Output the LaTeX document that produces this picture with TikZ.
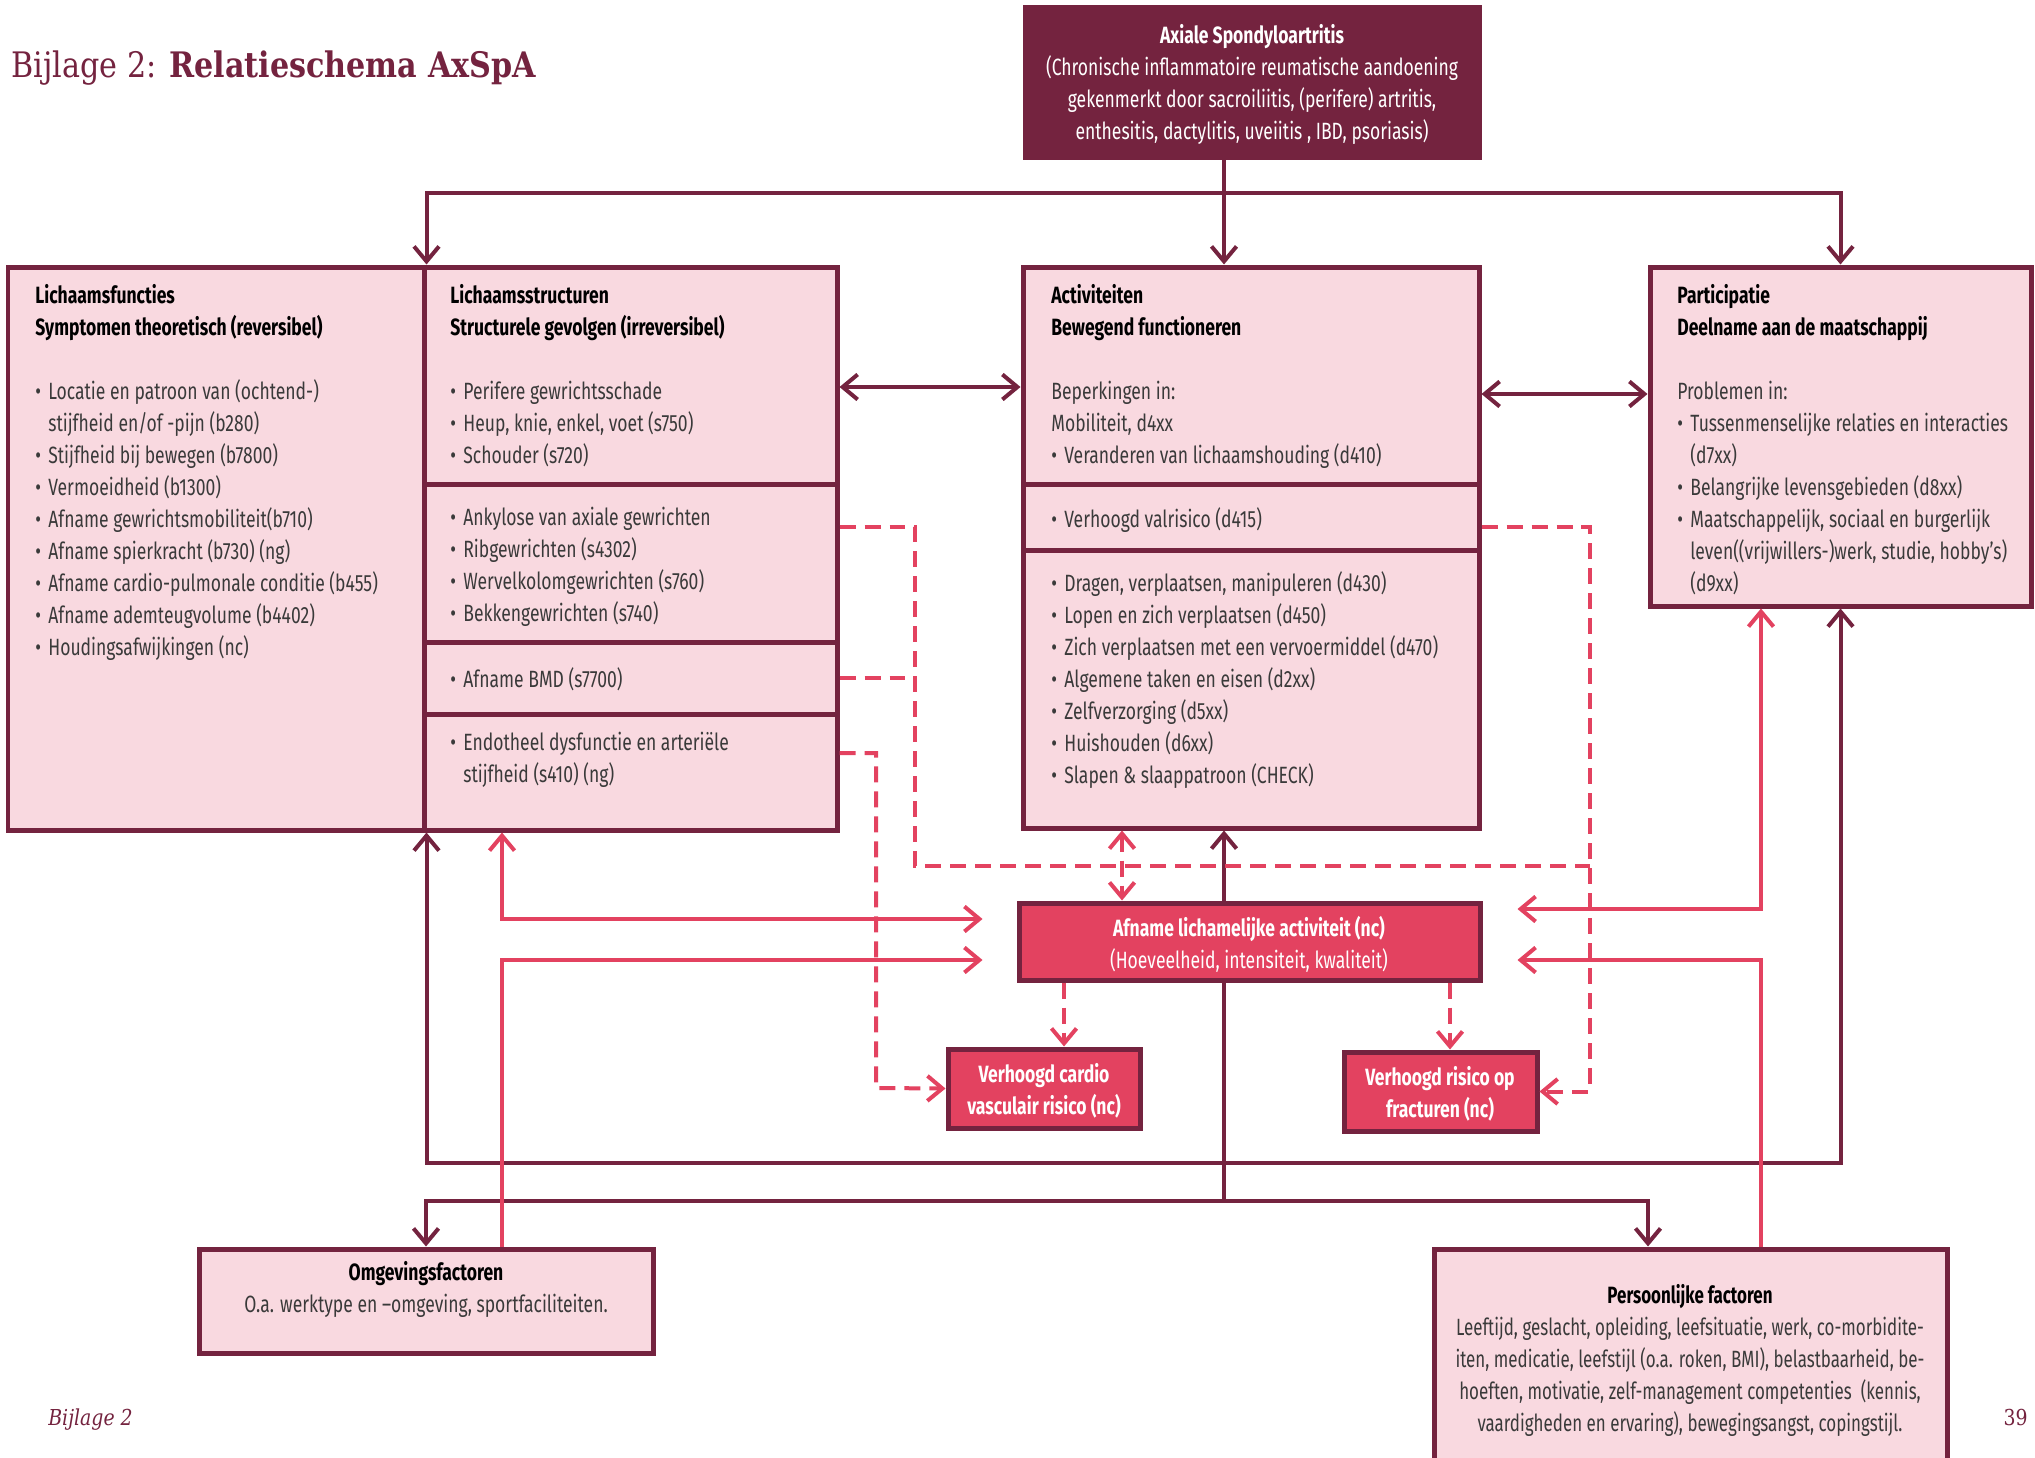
\documentclass[tikz,border=0pt]{standalone}
\usepackage{fontspec}
\setmainfont{Fira Sans}[FakeStretch=0.745]
\newfontfamily\titelfont{DejaVu Serif}[FakeStretch=0.86]
\usetikzlibrary{arrows.meta,fit}

\definecolor{bordeaux}{HTML}{74233F}
\definecolor{lichtroze}{HTML}{F9D9E0}
\definecolor{framboos}{HTML}{E34260}
\definecolor{tekstgrijs}{HTML}{3A3A3A}

\newcommand{\basis}{\fontsize{13.4pt}{18.2pt}\selectfont}
\newcommand{\bul}{\makebox[0.26cm][l]{\textbullet}}
\newcommand{\ins}{\hspace*{0.26cm}}
\newcommand{\kop}[1]{\textcolor{black}{\bfseries #1}}

\begin{document}
\begin{tikzpicture}[x=0.02cm, y=-0.02cm,
    vak/.style={draw=bordeaux, fill=lichtroze, line width=0.1cm, inner sep=0pt},
    rood/.style={vak, fill=framboos},
    tekst/.style={anchor=north west, align=left, inner sep=0pt, text=tekstgrijs, font=\basis},
    wit/.style={align=center, inner sep=0pt, text=white, font=\basis},
    lijn/.style={draw=bordeaux, line width=0.08cm},
    roze/.style={draw=framboos, line width=0.08cm},
    stippel/.style={roze, dash pattern=on 0.32cm off 0.18cm},
    pijl/.tip={Straight Barb[length=0.3cm, width=0.5cm]}]

    \useasboundingbox (0,0) rectangle (2035,1457);

    % titel en voet
    \node[anchor=base west, inner sep=0pt, text=bordeaux, font=\titelfont\fontsize{20pt}{24pt}\selectfont] (titel) at (11,77) {Bijlage 2: \textbf{Relatieschema AxSpA}};
    \node[anchor=base west, inner sep=0pt, text=bordeaux, font=\titelfont\itshape\fontsize{12.5pt}{14pt}\selectfont] (voet) at (48,1425) {Bijlage 2};
    \node[anchor=base east, inner sep=0pt, text=bordeaux, font=\titelfont\fontsize{12.5pt}{14pt}\selectfont] (paginanr) at (2028,1425) {39};

    % vakken
    \node[vak, fill=bordeaux, fit={(1025,7) (1479,157)}] (axspa) {};
    \node[wit] (axspatekst) at (1252,84) {\textbf{Axiale Spondyloartritis}\\(Chronische inflammatoire reumatische aandoening\\gekenmerkt door sacroiliitis, (perifere) artritis,\\enthesitis, dactylitis, uveiitis , IBD, psoriasis)};

    \node[vak, fit={(8,267) (424,830)}] (func) {};
    \node[vak, fit={(424,267) (837,484)}] (struct1) {};
    \node[vak, fit={(424,484) (837,642)}] (struct2) {};
    \node[vak, fit={(424,642) (837,714)}] (struct3) {};
    \node[vak, fit={(424,714) (837,830)}] (struct4) {};
    \node[vak, fit={(1023,267) (1479,484)}] (act1) {};
    \node[vak, fit={(1023,484) (1479,550)}] (act2) {};
    \node[vak, fit={(1023,550) (1479,828)}] (act3) {};
    \node[vak, fit={(1650,267) (2031,606)}] (part) {};

    \node[tekst] (functekst) at (35,284) {\kop{Lichaamsfuncties}\\\kop{Symptomen theoretisch (reversibel)}\\[0.64cm]
        \bul Locatie en patroon van (ochtend-)\\\ins stijfheid en/of -pijn (b280)\\\bul Stijfheid bij bewegen (b7800)\\
        \bul Vermoeidheid (b1300)\\\bul Afname gewrichtsmobiliteit(b710)\\\bul Afname spierkracht (b730) (ng)\\
        \bul Afname cardio-pulmonale conditie (b455)\\\bul Afname ademteugvolume (b4402)\\\bul Houdingsafwijkingen (nc)};
    \node[tekst] (struct1tekst) at (450,284) {\kop{Lichaamsstructuren}\\\kop{Structurele gevolgen (irreversibel)}\\[0.64cm]
        \bul Perifere gewrichtsschade\\\bul Heup, knie, enkel, voet (s750)\\\bul Schouder (s720)};
    \node[tekst] (struct2tekst) at (450,507) {\bul Ankylose van axiale gewrichten\\\bul Ribgewrichten (s4302)\\
        \bul Wervelkolomgewrichten (s760)\\\bul Bekkengewrichten (s740)};
    \node[tekst] (struct3tekst) at (450,667) {\bul Afname BMD (s7700)};
    \node[tekst] (struct4tekst) at (450,732) {\bul Endotheel dysfunctie en arteriële\\\ins stijfheid (s410) (ng)};

    \node[tekst] (act1tekst) at (1051,284) {\kop{Activiteiten}\\\kop{Bewegend functioneren}\\[0.64cm]
        Beperkingen in:\\Mobiliteit, d4xx\\\bul Veranderen van lichaamshouding (d410)};
    \node[tekst] (act2tekst) at (1051,507) {\bul Verhoogd valrisico (d415)};
    \node[tekst] (act3tekst) at (1051,571) {\bul Dragen, verplaatsen, manipuleren (d430)\\\bul Lopen en zich verplaatsen (d450)\\
        \bul Zich verplaatsen met een vervoermiddel (d470)\\\bul Algemene taken en eisen (d2xx)\\
        \bul Zelfverzorging (d5xx)\\\bul Huishouden (d6xx)\\\bul Slapen \& slaappatroon (CHECK)};

    \node[tekst] (parttekst) at (1677,284) {\kop{Participatie}\\\kop{Deelname aan de maatschappij}\\[0.64cm]
        Problemen in:\\\bul Tussenmenselijke relaties en interacties\\\ins (d7xx)\\\bul Belangrijke levensgebieden (d8xx)\\
        \bul Maatschappelijk, sociaal en burgerlijk\\\ins leven((vrijwillers-)werk, studie, hobby’s)\\\ins (d9xx)};

    \node[rood, fit={(1019,903) (1480,980)}] (afname) {};
    \node[wit] (afnametekst) at (1249,944) {\textbf{Afname lichamelijke activiteit (nc)}\\(Hoeveelheid, intensiteit, kwaliteit)};
    \node[rood, fit={(948,1049) (1140,1128)}] (cardio) {};
    \node[wit] (cardiotekst) at (1044,1091) {\textbf{Verhoogd cardio}\\\textbf{vasculair risico (nc)}};
    \node[rood, fit={(1344,1052) (1537,1131)}] (fract) {};
    \node[wit] (fracttekst) at (1440,1094) {\textbf{Verhoogd risico op}\\\textbf{fracturen (nc)}};

    \node[vak, fit={(199,1249) (653,1353)}] (omg) {};
    \node[wit, text=tekstgrijs] (omgtekst) at (426,1289) {\kop{Omgevingsfactoren}\\O.a. werktype en –omgeving, sportfaciliteiten.};
    \node[vak, fit={(1434,1249) (1947,1480)}] (pers) {};
    \node[wit, text=tekstgrijs, font=\basis\addfontfeature{FakeStretch=0.72}] (perstekst) at (1690,1360) {\kop{Persoonlijke factoren}\\Leeftijd, geslacht, opleiding, leefsituatie, werk, co-morbidite-\\
        iten, medicatie, leefstijl (o.a. roken, BMI), belastbaarheid, be-\\hoeften, motivatie, zelf-management competenties~ (kennis,\\
        vaardigheden en ervaring), bewegingsangst, copingstijl.};

    % verbindingen bordeaux
    \coordinate (hub) at (1224,193);
    \coordinate (onder) at (1224,1201);
    \draw[lijn] (axspa.south -| hub) -- (hub);
    \draw[lijn,-pijl] (hub) -- (act1.north -| hub);
    \draw[lijn,-pijl] (hub) -| (func.north east);
    \draw[lijn,-pijl] (hub) -| (part.north);
    \draw[lijn,pijl-pijl] (struct1.east |- 0,387) -- (act1.west |- 0,387);
    \draw[lijn,pijl-pijl] (act1.east |- 0,394) -- (part.west |- 0,394);
    \draw[lijn,-pijl] (afname.north -| hub) -- (act3.south -| hub);
    \draw[lijn] (afname.south -| hub) -- (onder);
    \draw[lijn,-pijl] (onder) -| (omg.north);
    \draw[lijn,-pijl] (onder) -| (pers.north -| 1648,0);
    \draw[lijn,pijl-pijl] (func.south east) -- (func.south east |- 0,1163) -| (part.south);

    % verbindingen roze
    \draw[roze,pijl-pijl,shorten >=0.68cm] (struct4.south -| 502,0) |- (afname.west |- 0,919);
    \draw[roze,-pijl,shorten >=0.68cm] (omg.north -| 502,0) |- (afname.west |- 0,960);
    \draw[roze,pijl-pijl,shorten >=0.7cm] (part.south -| 1761,0) |- (afname.east |- 0,909);
    \draw[roze,-pijl,shorten >=0.7cm] (pers.north -| 1761,0) |- (afname.east |- 0,960);

    % gestippeld
    \coordinate (knoopL) at (915,866);
    \coordinate (knoopR) at (1590,866);
    \draw[stippel] (struct2.east |- 0,527) -| (knoopL) -- (knoopR);
    \draw[stippel] (struct3.east) -- (struct3.east -| knoopL);
    \draw[stippel,-pijl] (struct4.east |- 0,753) -| (876,1088) -- (cardio.west);
    \draw[stippel,-pijl] (act2.east |- 0,527) -| (knoopR |- fract.east) -- (fract.east);
    \draw[stippel,pijl-pijl] (act3.south -| 1122,0) -- (afname.north -| 1122,0);
    \draw[stippel,-pijl] (afname.south -| 1064,0) -- (cardio.north -| 1064,0);
    \draw[stippel,-pijl] (afname.south -| 1450,0) -- (fract.north -| 1450,0);

\end{tikzpicture}
\end{document}
